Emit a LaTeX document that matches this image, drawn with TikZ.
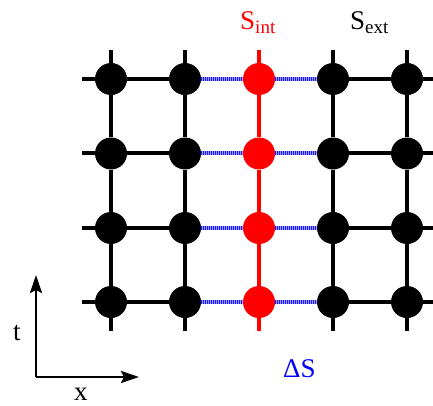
\documentclass[tikz,border=0pt]{standalone}
\usepackage{fontspec}
\setmainfont{Liberation Serif}
\usetikzlibrary{arrows.meta}
\begin{document}
\begin{tikzpicture}[x=1pt,y=-1pt,
  site/.style={circle,fill=black,minimum size=32pt,inner sep=0pt},
  isite/.style={site,fill=red},
  bond/.style={line width=4pt,black},
  ibond/.style={line width=4pt,red},
  dbase/.style={line width=4pt,blue!40!white},
  dbond/.style={line width=4pt,blue!90!white,dash pattern=on 1pt off 1pt},
  axis/.style={line width=2.5pt,-{Stealth[length=18pt,width=12pt,inset=3pt]}},
  lbl/.style={inner sep=0pt,anchor=base west,font=\fontsize{27}{30}\selectfont}]
\useasboundingbox (0,0) rectangle (433,406);
% sites
\foreach \i/\x in {1/111,2/185,3/259,4/333,5/407}{
  \foreach \j/\y in {1/79,2/153.5,3/228,4/302}{
    \ifnum\i=3
      \node[isite] (n-\i-\j) at (\x,\y) {};
    \else
      \node[site] (n-\i-\j) at (\x,\y) {};
    \fi
  }
  \coordinate (top-\i) at (\x,50);
  \coordinate (bot-\i) at (\x,331);
}
\foreach \j/\y in {1/79,2/153.5,3/228,4/302}{
  \coordinate (l-\j) at (82,\y);
  \coordinate (r-\j) at (433,\y);
}
% vertical bonds
\foreach \i in {1,2,4,5}{
  \draw[bond] (top-\i) -- (n-\i-1) (n-\i-1) -- (n-\i-2) (n-\i-2) -- (n-\i-3) (n-\i-3) -- (n-\i-4) (n-\i-4) -- (bot-\i);
}
\draw[ibond] (top-3) -- (n-3-1) (n-3-1) -- (n-3-2) (n-3-2) -- (n-3-3) (n-3-3) -- (n-3-4) (n-3-4) -- (bot-3);
% horizontal bonds
\foreach \j in {1,2,3,4}{
  \draw[bond] (l-\j) -- (n-1-\j) (n-1-\j) -- (n-2-\j);
  \draw[bond] (n-4-\j) -- (n-5-\j) (n-5-\j) -- (r-\j);
  \draw[dbase] (n-2-\j) -- (n-3-\j) (n-3-\j) -- (n-4-\j);
  \draw[dbond] (n-2-\j) -- (n-3-\j) (n-3-\j) -- (n-4-\j);
}
% labels
\node[lbl,text=red] (sint) at (240,30) {S\raisebox{-4pt}{\fontsize{19}{20}\selectfont int}};
\node[lbl] (sext) at (350,30) {S\raisebox{-4pt}{\fontsize{19}{20}\selectfont ext}};
\node[lbl,text=blue] (ds) at (283,377) {ΔS};
% axes
\coordinate (o) at (36,377);
\coordinate (ta) at (36,275);
\coordinate (xa) at (139,377);
\draw[axis] (o) -- (ta);
\draw[axis] (o) -- (xa);
\node[lbl] (tl) at (13,340) {t};
\node[lbl] (xl) at (74,400) {x};
\end{tikzpicture}
\end{document}
